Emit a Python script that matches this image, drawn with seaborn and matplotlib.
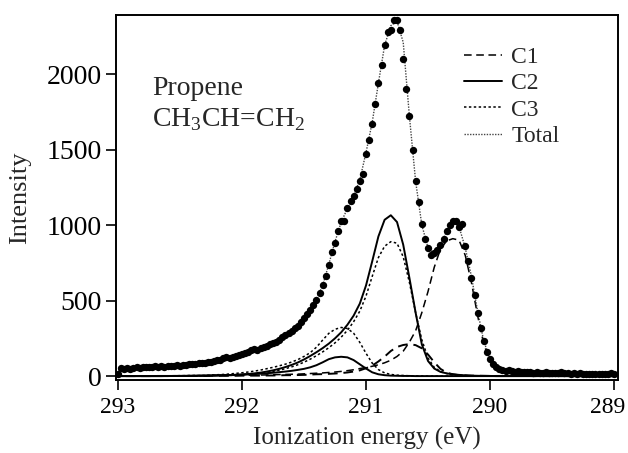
"""
Propene C1s photoelectron spectrum with fitted components (C1, C2, C3).
"""

import numpy as np
import pandas as pd
import matplotlib
matplotlib.use("Agg")
import matplotlib.pyplot as plt
import matplotlib.transforms as mtransforms
import seaborn as sns
from matplotlib.lines import Line2D

# --- data -------------------------------------------------------------
# fit curves sampled every 0.05 eV from 293.00 down to 289.00 (81 points)
energy_fit = np.round(np.linspace(293.0, 289.0, 81), 3)
# measured points every 0.025 eV from 293.000 down to 289.000 (161 points)
energy_data = np.round(np.linspace(293.0, 289.0, 161), 3)

c1_main = [1, 1, 1, 1, 1, 1, 2, 2, 2, 2,
           2, 3, 3, 3, 3, 4, 4, 4, 5, 5,
           6, 6, 7, 7, 8, 9, 10, 11, 12, 13,
           15, 17, 19, 21, 24, 27, 31, 36, 42, 50,
           57, 65, 75, 88, 105, 130, 165, 225, 300, 420,
           560, 720, 840, 895, 910, 900, 800, 620, 400, 210,
           100, 50, 28, 18, 13, 10, 8, 6, 5, 4,
           3, 3, 3, 2, 2, 2, 2, 2, 1, 1,
           1]
c1_vib = [0, 0, 0, 0, 0, 0, 1, 1, 1, 1,
          1, 1, 1, 1, 1, 2, 2, 2, 2, 2,
          3, 3, 3, 3, 4, 4, 5, 6, 6, 7,
          8, 10, 12, 13, 15, 17, 20, 24, 30, 38,
          52, 69, 97, 129, 166, 193, 206, 212, 205, 184,
          143, 92, 48, 23, 12, 6, 4, 3, 2, 2,
          1, 1, 1, 1, 1, 1, 1, 0, 0, 0,
          0, 0, 0, 0, 0, 0, 0, 0, 0, 0,
          0]
c2_main = [0, 0, 0, 0, 0, 0, 0, 0, 0, 1,
           1, 2, 2, 3, 3, 4, 5, 6, 7, 9,
           11, 14, 18, 23, 30, 38, 48, 60, 74, 90,
           110, 133, 158, 185, 215, 250, 290, 340, 400, 480,
           600, 760, 925, 1035, 1065, 1020, 870, 650, 420, 210,
           100, 50, 28, 18, 12, 8, 5, 3, 2, 1,
           1, 0, 0, 0, 0, 0, 0, 0, 0, 0,
           0, 0, 0, 0, 0, 0, 0, 0, 0, 0,
           0]
c2_vib = [0, 0, 0, 0, 0, 0, 0, 0, 1, 1,
          1, 1, 1, 2, 2, 3, 4, 5, 6, 7,
          9, 11, 13, 16, 19, 22, 26, 30, 35, 41,
          48, 58, 72, 91, 112, 124, 128, 124, 106, 78,
          50, 25, 12, 6, 3, 2, 1, 1, 0, 0,
          0, 0, 0, 0, 0, 0, 0, 0, 0, 0,
          0, 0, 0, 0, 0, 0, 0, 0, 0, 0,
          0, 0, 0, 0, 0, 0, 0, 0, 0, 0,
          0]
c3_main = [0, 0, 0, 0, 0, 0, 0, 0, 0, 1,
           1, 2, 2, 3, 3, 4, 5, 6, 7, 8,
           10, 12, 15, 19, 24, 31, 39, 49, 61, 75,
           92, 112, 135, 160, 188, 220, 258, 303, 360, 430,
           530, 660, 785, 860, 890, 880, 790, 620, 420, 240,
           120, 58, 30, 17, 10, 6, 4, 2, 1, 1,
           0, 0, 0, 0, 0, 0, 0, 0, 0, 0,
           0, 0, 0, 0, 0, 0, 0, 0, 0, 0,
           0]
c3_vib = [0, 0, 0, 1, 1, 1, 1, 1, 2, 2,
          3, 3, 4, 4, 5, 7, 9, 11, 14, 18,
          22, 27, 33, 40, 49, 58, 68, 79, 93, 109,
          130, 155, 191, 238, 283, 310, 322, 315, 284, 223,
          151, 86, 43, 21, 11, 6, 4, 2, 1, 1,
          0, 0, 0, 0, 0, 0, 0, 0, 0, 0,
          0, 0, 0, 0, 0, 0, 0, 0, 0, 0,
          0, 0, 0, 0, 0, 0, 0, 0, 0, 0,
          0]
total_fit = [40, 44, 47, 50, 52, 54, 56, 58, 60, 63,
             66, 69, 72, 76, 80, 85, 92, 100, 110, 120,
             132, 146, 162, 178, 195, 215, 238, 266, 300, 340,
             390, 445, 510, 600, 740, 890, 1020, 1110, 1195, 1300,
             1480, 1680, 1940, 2190, 2320, 2350, 2210, 1720, 1290, 1000,
             850, 805, 865, 960, 1020, 990, 850, 660, 430, 230,
             115, 60, 38, 30, 26, 24, 22, 21, 20, 19,
             18, 18, 17, 17, 16, 16, 15, 15, 15, 14,
             14]

intensity = [12, 52, 48, 55, 50, 56, 58, 54, 60, 58,
             62, 60, 66, 62, 64, 63, 66, 64, 70, 72,
             70, 76, 74, 80, 78, 82, 86, 84, 90, 94,
             96, 100, 104, 108, 118, 128, 122, 126, 130, 142,
             145, 150, 158, 172, 180, 176, 184, 190, 200, 210,
             218, 226, 240, 256, 270, 285, 300, 318, 335, 358,
             382, 410, 440, 470, 505, 550, 600, 660, 735, 820,
             880, 960, 1025, 1030, 1110, 1160, 1190, 1240, 1290, 1340,
             1470, 1560, 1670, 1800, 1940, 2060, 2190, 2280, 2290, 2355,
             2355, 2290, 2100, 1900, 1720, 1500, 1290, 1150, 1010, 905,
             850, 805, 815, 835, 870, 910, 960, 1000, 1025, 1025,
             990, 1005, 860, 760, 650, 540, 420, 320, 230, 160,
             110, 80, 60, 48, 42, 36, 40, 32, 30, 34,
             28, 26, 30, 24, 22, 26, 20, 22, 25, 20,
             18, 22, 20, 24, 18, 20, 16, 18, 15, 18,
             14, 16, 15, 17, 14, 15, 13, 16, 14, 18,
             15]

x_ticks = [293, 292, 291, 290, 289]
y_ticks = [0, 500, 1000, 1500, 2000]

# --- style ------------------------------------------------------------
sns.set_theme(style="ticks")
plt.rcParams['font.family'] = ['Liberation Serif', 'DejaVu Serif']
plt.rcParams['mathtext.fontset'] = 'custom'
plt.rcParams['mathtext.rm'] = 'Liberation Serif'

fit = pd.DataFrame({
    'E': energy_fit, 'C1': c1_main, 'C1v': c1_vib, 'C2': c2_main,
    'C2v': c2_vib, 'C3': c3_main, 'C3v': c3_vib, 'Total': total_fit,
})
meas = pd.DataFrame({'E': energy_data, 'I': intensity})

fig = plt.figure(figsize=(6.28, 4.53), dpi=100)
ax = fig.add_axes([0.1847, 0.1611, 0.7994, 0.8058])

dash_c1 = (0, (5, 3))
dot_c3 = (0, (1.6, 1.6))
dot_tot = (0, (1, 1))

sns.lineplot(data=fit, x='E', y='C1', ax=ax, color='black', lw=1.1,
             linestyle=dash_c1, legend=False)
sns.lineplot(data=fit, x='E', y='C1v', ax=ax, color='black', lw=1.4,
             linestyle=dash_c1, legend=False)
sns.lineplot(data=fit, x='E', y='C2', ax=ax, color='black', lw=1.4,
             legend=False)
sns.lineplot(data=fit, x='E', y='C2v', ax=ax, color='black', lw=1.4,
             legend=False)
sns.lineplot(data=fit, x='E', y='C3', ax=ax, color='black', lw=1.1,
             linestyle=dot_c3, legend=False)
sns.lineplot(data=fit, x='E', y='C3v', ax=ax, color='black', lw=1.1,
             linestyle=dot_c3, legend=False)
sns.lineplot(data=fit, x='E', y='Total', ax=ax, color='#444444', lw=1.0,
             linestyle=dot_tot, legend=False)
sns.scatterplot(data=meas, x='E', y='I', ax=ax, color='black', s=28,
                edgecolor='black', linewidth=0, zorder=5, legend=False)

ax.set_xlim(293.016, 288.968)
ax.set_ylim(-26, 2391)
ax.set_xticks(x_ticks)
ax.set_yticks(y_ticks)
ax.tick_params(axis='both', direction='out', length=7.5, width=1.2,
               colors='black', pad=5)
ax.tick_params(axis='x', labelsize=17)
ax.tick_params(axis='y', labelsize=20, pad=3)
for sp in ax.spines.values():
    sp.set_visible(True)
    sp.set_linewidth(1.4)
    sp.set_color('black')

# last x tick label sits a little left of its tick, as in the original
offset = mtransforms.ScaledTranslation(-6 / 100, 0, fig.dpi_scale_trans)
last = ax.get_xticklabels()[-1]
last.set_transform(last.get_transform() + offset)

ax.set_xlabel('Ionization energy (eV)', fontsize=18, labelpad=6)
ax.set_ylabel('Intensity', fontsize=19, labelpad=11)

ax.text(0.072, 0.78, 'Propene', transform=ax.transAxes, fontsize=20,
        va='baseline', ha='left')
ax.text(0.072, 0.696, r'CH$_3$CH=CH$_2$', transform=ax.transAxes,
        fontsize=20, va='baseline', ha='left')

handles = [
    Line2D([], [], color='black', lw=1.1, linestyle=dash_c1),
    Line2D([], [], color='black', lw=1.4),
    Line2D([], [], color='black', lw=1.1, linestyle=dot_c3),
    Line2D([], [], color='#444444', lw=1.0, linestyle=dot_tot),
]
ax.legend(handles, ['C1', 'C2', 'C3', 'Total'], loc='upper left',
          bbox_to_anchor=(0.67, 0.946), frameon=False, fontsize=17,
          borderpad=0, labelspacing=0.2, handlelength=1.6,
          handletextpad=0.4)

fig.savefig('out.png', dpi=100)
